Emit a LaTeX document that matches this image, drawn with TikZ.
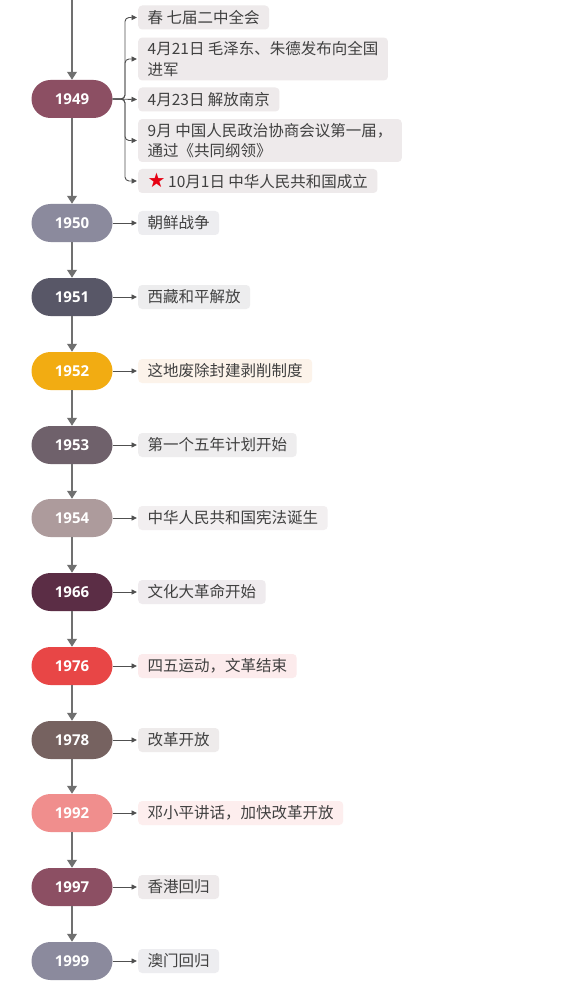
\documentclass[tikz,border=0pt]{standalone}
\usepackage{fontspec}
\setmainfont{Noto Sans CJK SC}
\newfontfamily\yrfont{Open Sans}
\newfontfamily\symfont{DejaVu Sans}
\usetikzlibrary{arrows.meta,calc}
\definecolor{c1949}{HTML}{8C4F63}
\definecolor{c1950}{HTML}{8B8A9D}
\definecolor{c1951}{HTML}{585767}
\definecolor{c1952}{HTML}{F2AC12}
\definecolor{c1953}{HTML}{6F616B}
\definecolor{c1954}{HTML}{AD9B9C}
\definecolor{c1966}{HTML}{5B2D45}
\definecolor{c1976}{HTML}{E84646}
\definecolor{c1978}{HTML}{766260}
\definecolor{c1992}{HTML}{F08E8D}
\definecolor{l1949}{HTML}{EEEAEB}
\definecolor{l1950}{HTML}{EDEDF0}
\definecolor{l1951}{HTML}{EDEDEE}
\definecolor{l1952}{HTML}{FCF3EA}
\definecolor{l1953}{HTML}{EEEDEE}
\definecolor{l1954}{HTML}{F2EFF0}
\definecolor{l1966}{HTML}{EFEBEE}
\definecolor{l1976}{HTML}{FCEBEC}
\definecolor{l1978}{HTML}{EEEBEB}
\definecolor{l1992}{HTML}{FDEEEE}
\definecolor{txtc}{HTML}{404040}
\definecolor{linec}{HTML}{707070}
\definecolor{twigc}{HTML}{505050}
\definecolor{starred}{HTML}{E60012}
\begin{document}
\begin{tikzpicture}[x=1pt,y=1pt,
 yearbox/.style={rectangle, rounded corners=19pt, minimum width=81pt, minimum height=38pt, inner sep=0pt, text=white, font=\yrfont\bfseries\fontsize{15}{16}\selectfont},
 lbl/.style={rectangle, rounded corners=4pt, anchor=west, inner xsep=9.5pt, inner ysep=4pt, minimum height=24pt, align=left, text=txtc, font=\fontsize{15.5}{20.5}\selectfont},
 trunk/.style={draw=linec, line width=2.8pt, -{Triangle[width=9.5pt,length=8pt]}},
 twig/.style={draw=twigc, line width=0.9pt, -{Triangle[width=5pt,length=5.5pt]}, shorten >=1pt},
]
\useasboundingbox[fill=white] (0,0) rectangle (563,-1000);

% year pills
\node[yearbox, fill=c1949] (y1949) at (72,-99) {1949};
\node[yearbox, fill=c1950] (y1950) at (72,-223) {1950};
\node[yearbox, fill=c1951] (y1951) at (72,-297) {1951};
\node[yearbox, fill=c1952] (y1952) at (72,-371) {1952};
\node[yearbox, fill=c1953] (y1953) at (72,-445) {1953};
\node[yearbox, fill=c1954] (y1954) at (72,-518) {1954};
\node[yearbox, fill=c1966] (y1966) at (72,-592) {1966};
\node[yearbox, fill=c1976] (y1976) at (72,-666) {1976};
\node[yearbox, fill=c1978] (y1978) at (72,-740) {1978};
\node[yearbox, fill=c1992] (y1992) at (72,-813) {1992};
\node[yearbox, fill=c1949] (y1997) at (72,-887) {1997};
\node[yearbox, fill=c1950] (y1999) at (72,-961) {1999};

% trunk
\coordinate (top) at (72,0);
\draw[trunk] (top) -- (y1949.north);
\draw[trunk] (y1949.south) -- (y1950.north);
\draw[trunk] (y1950.south) -- (y1951.north);
\draw[trunk] (y1951.south) -- (y1952.north);
\draw[trunk] (y1952.south) -- (y1953.north);
\draw[trunk] (y1953.south) -- (y1954.north);
\draw[trunk] (y1954.south) -- (y1966.north);
\draw[trunk] (y1966.south) -- (y1976.north);
\draw[trunk] (y1976.south) -- (y1978.north);
\draw[trunk] (y1978.south) -- (y1992.north);
\draw[trunk] (y1992.south) -- (y1997.north);
\draw[trunk] (y1997.south) -- (y1999.north);

% 1949 events
\node[lbl, fill=l1949] (e1) at (138,-17.5) {春 七届二中全会};
\node[lbl, fill=l1949] (e2) at (138,-59) {4月21日 毛泽东、朱德发布向全国\\进军};
\node[lbl, fill=l1949] (e3) at (138,-99.5) {4月23日 解放南京};
\node[lbl, fill=l1949] (e4) at (138,-140.5) {9月 中国人民政治协商会议第一届，\\通过《共同纲领》};
\node[lbl, fill=l1949] (e5) at (138,-181) {{\symfont\color{starred}\fontsize{20}{17}\selectfont ★}\,10月1日 中华人民共和国成立};

\coordinate (br) at (125,-99);
\draw[twig, rounded corners=4pt] (y1949.east) -- (br) |- (e1.west);
\draw[twig, rounded corners=4pt] (y1949.east) -- (br) |- (e2.west);
\draw[twig] (y1949.east) -- (e3.west);
\draw[twig, rounded corners=4pt] (y1949.east) -- (br) |- (e4.west);
\draw[twig, rounded corners=4pt] (y1949.east) -- (br) |- (e5.west);

% other events
\node[lbl, fill=l1950] (t1950) at (138,-223) {朝鲜战争};
\node[lbl, fill=l1951] (t1951) at (138,-297) {西藏和平解放};
\node[lbl, fill=l1952] (t1952) at (138,-371) {这地废除封建剥削制度};
\node[lbl, fill=l1953] (t1953) at (138,-445) {第一个五年计划开始};
\node[lbl, fill=l1954] (t1954) at (138,-518) {中华人民共和国宪法诞生};
\node[lbl, fill=l1966] (t1966) at (138,-592) {文化大革命开始};
\node[lbl, fill=l1976] (t1976) at (138,-666) {四五运动，文革结束};
\node[lbl, fill=l1978] (t1978) at (138,-740) {改革开放};
\node[lbl, fill=l1992] (t1992) at (138,-813) {邓小平讲话，加快改革开放};
\node[lbl, fill=l1949] (t1997) at (138,-887) {香港回归};
\node[lbl, fill=l1950] (t1999) at (138,-961) {澳门回归};

\draw[twig] (y1950.east) -- (t1950.west);
\draw[twig] (y1951.east) -- (t1951.west);
\draw[twig] (y1952.east) -- (t1952.west);
\draw[twig] (y1953.east) -- (t1953.west);
\draw[twig] (y1954.east) -- (t1954.west);
\draw[twig] (y1966.east) -- (t1966.west);
\draw[twig] (y1976.east) -- (t1976.west);
\draw[twig] (y1978.east) -- (t1978.west);
\draw[twig] (y1992.east) -- (t1992.west);
\draw[twig] (y1997.east) -- (t1997.west);
\draw[twig] (y1999.east) -- (t1999.west);
\end{tikzpicture}
\end{document}
